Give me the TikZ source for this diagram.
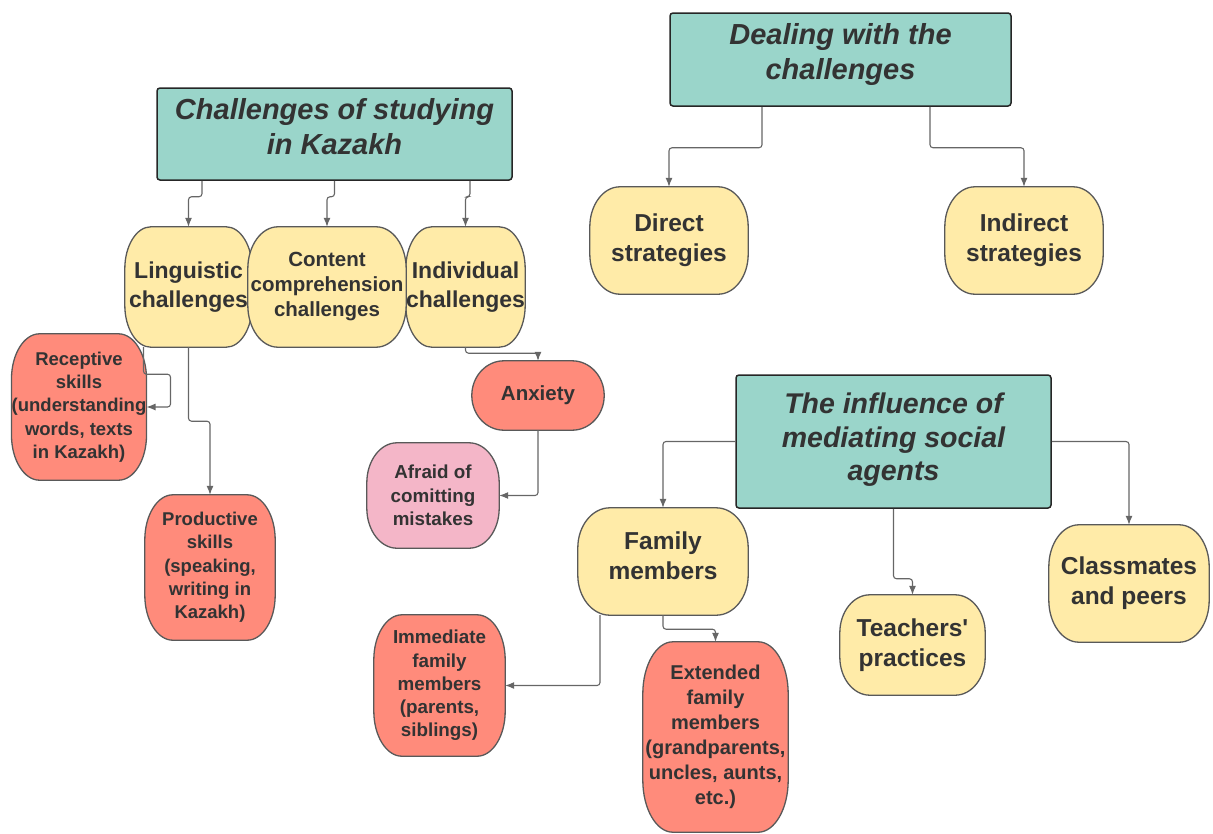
\documentclass[tikz,border=0pt]{standalone}
\usepackage{fontspec}
\setmainfont{Liberation Sans}[Ligatures=TeXOff]
\usetikzlibrary{arrows.meta,calc,backgrounds}
\definecolor{teal1}{HTML}{9AD5CA}
\definecolor{yel}{HTML}{FFEBA8}
\definecolor{sal}{HTML}{FF8B7B}
\definecolor{pnk}{HTML}{F4B6C8}
\definecolor{bord}{HTML}{595959}
\definecolor{txt}{HTML}{333333}
\definecolor{arrc}{HTML}{666666}
\tikzset{
  fs/.style 2 args={font=\fontsize{#1}{#2}\selectfont\bfseries},
  fsi/.style 2 args={font=\fontsize{#1}{#2}\selectfont\bfseries\itshape},
  title/.style={draw=black!85, line width=1.5pt, fill=teal1, rounded corners=3pt, align=center, inner sep=0pt, text=txt},
  blob/.style={align=center, inner sep=0pt, text=txt},
  arr/.style={draw=arrc, line width=1.1pt, rounded corners=3pt, -{Latex[length=9pt,width=7pt]}},
}
% #1 node name, #2 corner x-radius, #3 corner y-radius, #4 fill
\newcommand\blobshape[4]{%
\draw[draw=bord, line width=1.3pt, fill=#4]
 let \p1=(#1.north west), \p2=(#1.south east) in
 (\x1+#2,\y1) -- (\x2-#2,\y1)
 .. controls (\x2-0.45*#2,\y1) and (\x2,\y1-0.45*#3) .. (\x2,\y1-#3)
 -- (\x2,\y2+#3)
 .. controls (\x2,\y2+0.45*#3) and (\x2-0.45*#2,\y2) .. (\x2-#2,\y2)
 -- (\x1+#2,\y2)
 .. controls (\x1+0.45*#2,\y2) and (\x1,\y2+0.45*#3) .. (\x1,\y2+#3)
 -- (\x1,\y1-#3)
 .. controls (\x1,\y1-0.45*#3) and (\x1+0.45*#2,\y1) .. cycle;}
\begin{document}
\begin{tikzpicture}[x=1pt,y=-1pt]
\useasboundingbox (0,0) rectangle (1213,833);
% titles
\node[title, minimum width=355, minimum height=92, text depth=16pt, fsi={29}{35}] (ch) at (334.5,134) {Challenges of studying\\in Kazakh};
\node[title, minimum width=341, minimum height=93, text depth=16pt, fsi={29}{35}] (dl) at (840.5,59.5) {Dealing with the\\challenges};
\node[title, minimum width=315, minimum height=133, text depth=9pt, fsi={28.5}{33.5}] (inf) at (893.5,441.5) {The influence of\\mediating social\\agents};
% level 2
\node[blob, minimum width=127, minimum height=120, fs={23}{29}] (ling) at (188.5,287) {Linguistic\\challenges};
\node[blob, minimum width=119, minimum height=120, fs={23}{29}] (ind) at (465.5,287) {Individual\\challenges};
\node[blob, minimum width=158, minimum height=120, fs={20.5}{25}] (cont) at (327,287) {Content\\comprehension\\challenges};
\node[blob, minimum width=134, minimum height=146, fs={18.5}{23.3}] (rec) at (79,407) {Receptive\\skills\\(understanding\\words, texts\\in Kazakh)};
\node[blob, minimum width=130, minimum height=145, fs={18.5}{23.3}] (prod) at (210,567.5) {Productive\\skills\\(speaking,\\writing in\\Kazakh)};
\node[blob, minimum width=132, minimum height=69, fs={20.5}{24}] (anx) at (538,395.5) {Anxiety};
\node[blob, minimum width=132, minimum height=105, fs={18.8}{23.3}] (afr) at (433,495.5) {Afraid of\\comitting\\mistakes};
\node[blob, minimum width=158, minimum height=107, fs={24.5}{30}] (dir) at (669,240.5) {Direct\\strategies};
\node[blob, minimum width=158, minimum height=107, fs={24.5}{30}] (indr) at (1024,240.5) {Indirect\\strategies};
\node[blob, minimum width=170, minimum height=107, text depth=11pt, fs={24.5}{30}] (fam) at (663,561.5) {Family\\members};
\node[blob, minimum width=145, minimum height=100, fs={24.5}{30}] (tea) at (912.5,645) {Teachers'\\practices};
\node[blob, minimum width=160, minimum height=117, fs={24.5}{30}] (cls) at (1129,583.5) {Classmates\\and peers};
\node[blob, minimum width=131, minimum height=141, fs={18.8}{23.3}] (imm) at (439.5,685.5) {Immediate\\family\\members\\(parents,\\siblings)};
\node[blob, minimum width=145, minimum height=190, fs={20}{25}] (ext) at (715.5,737) {Extended\\family\\members\\(grandparents,\\uncles, aunts,\\etc.)};
\begin{scope}[on background layer]
\blobshape{ling}{26pt}{42pt}{yel}
\blobshape{ind}{26pt}{42pt}{yel}
\blobshape{cont}{30pt}{42pt}{yel}
\blobshape{rec}{28pt}{45pt}{sal}
\blobshape{prod}{28pt}{45pt}{sal}
\blobshape{anx}{32pt}{34.5pt}{sal}
\blobshape{afr}{30pt}{40pt}{pnk}
\blobshape{dir}{30pt}{40pt}{yel}
\blobshape{indr}{30pt}{40pt}{yel}
\blobshape{fam}{32pt}{40pt}{yel}
\blobshape{tea}{30pt}{38pt}{yel}
\blobshape{cls}{30pt}{42pt}{yel}
\blobshape{imm}{28pt}{45pt}{sal}
\blobshape{ext}{30pt}{52pt}{sal}
\end{scope}
% connectors
\draw[arr] ([xshift=-132.5pt]ch.south) -- ++(0,16) -| (ling.north);
\draw[arr] (ch.south) -- ++(0,16) -| (cont.north);
\draw[arr] ([xshift=135.5pt]ch.south) -- ++(0,16) -| (ind.north);
\draw[arr] ([xshift=-45pt]ling.south) -- ++(0,27) -| ([xshift=24pt]rec.east) -- (rec.east);
\draw[arr] (ling.south) -- ++(0,74) -| (prod.north);
\draw[arr] (ind.south) -- ++(0,6) -| (anx.north);
\draw[arr] (anx.south) |- (afr.east);
\draw[arr] ([xshift=-78.5pt]dl.south) -- ++(0,41) -| (dir.north);
\draw[arr] ([xshift=89.5pt]dl.south) -- ++(0,41) -| (indr.north);
\draw[arr] (inf.west) -| (fam.north);
\draw[arr] (inf.south) -- ++(0,70) -| (tea.north);
\draw[arr] (inf.east) -| (cls.north);
\draw[arr] ([xshift=-63pt]fam.south) |- (imm.east);
\draw[arr] (fam.south) -- ++(0,14) -| (ext.north);
\end{tikzpicture}
\end{document}
